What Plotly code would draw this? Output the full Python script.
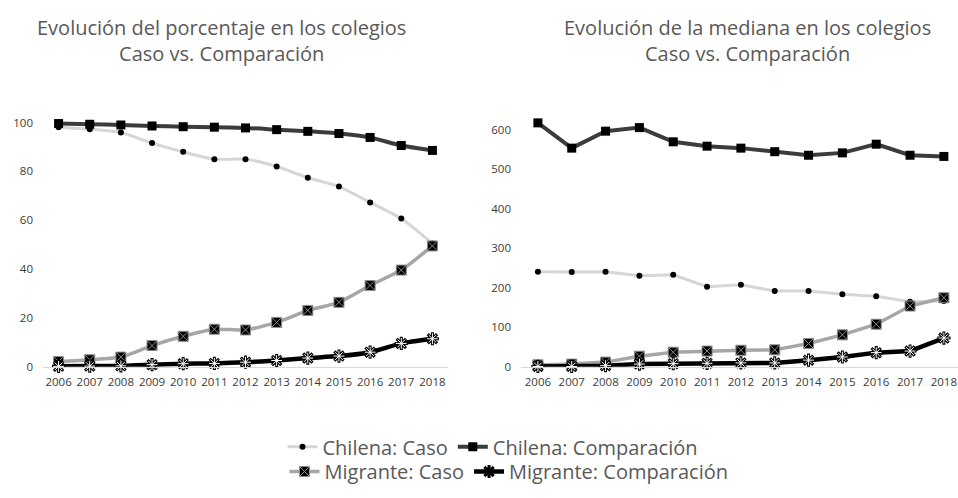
import plotly.graph_objects as go

years = [2006, 2007, 2008, 2009, 2010, 2011, 2012, 2013, 2014, 2015, 2016, 2017, 2018]

# Left: porcentaje
pct_chilena_caso = [98.1, 97.3, 95.9, 91.6, 88.0, 85.0, 85.0, 82.0, 77.4, 73.8, 67.3, 60.7, 50.5]
pct_chilena_comp = [99.6, 99.3, 99.0, 98.6, 98.3, 98.1, 97.8, 97.1, 96.4, 95.5, 93.9, 90.6, 88.6]
pct_migrante_caso = [2.2, 2.9, 4.0, 8.7, 12.5, 15.4, 15.1, 18.2, 23.1, 26.4, 33.3, 39.6, 49.5]
pct_migrante_comp = [0.2, 0.3, 0.4, 0.9, 1.3, 1.4, 1.9, 2.6, 3.6, 4.4, 6.0, 9.6, 11.5]

# Right: mediana
med_chilena_caso = [241, 240, 241, 231, 233, 203, 208, 192, 192, 184, 179, 165, 167]
med_chilena_comp = [618, 554, 597, 606, 570, 559, 554, 545, 536, 542, 564, 536, 533]
med_migrante_caso = [5, 7, 12, 27, 37, 40, 42, 43, 59, 81, 108, 154, 175]
med_migrante_comp = [1, 1, 3, 7, 8, 9, 10, 10, 17, 25, 36, 40, 73]

names = ["Chilena: Caso", "Chilena: Comparación", "Migrante: Caso", "Migrante: Comparación"]
titles = ["Evolución del porcentaje en los colegios<br>Caso vs. Comparación",
          "Evolución de la mediana en los colegios<br>Caso vs. Comparación"]

styles = [
    dict(line=dict(color="#d6d6d6", width=3), marker=dict(symbol="circle", size=6, color="black")),
    dict(line=dict(color="#3c3c3c", width=4), marker=dict(symbol="square", size=9, color="black")),
    dict(line=dict(color="#a6a6a6", width=3.5), marker=dict(symbol="square-x", size=10, color="black",
                                                           line=dict(color="#8c8c8c", width=1))),
    dict(line=dict(color="black", width=4.5), marker=dict(symbol="asterisk-open", size=11, color="black",
                                                         line=dict(color="black", width=3))),
]
legend_ids = ["legend", "legend", "legend2", "legend2"]

fig = go.Figure()

def add_series(data, xa, ya, shape, showlegend):
    for i, vals in enumerate(data):
        st = styles[i]
        fig.add_trace(go.Scatter(
            x=years, y=vals, mode="lines+markers", name=names[i],
            line=dict(color=st["line"]["color"], width=st["line"]["width"], shape=shape,
                      smoothing=0.6 if shape == "spline" else None),
            marker=st["marker"], xaxis=xa, yaxis=ya, cliponaxis=False,
            showlegend=showlegend, legend=legend_ids[i]))
        if i == 3:
            fig.add_trace(go.Scatter(
                x=years, y=vals, mode="markers", name=names[i],
                marker=dict(symbol="asterisk-open", size=9, color="white",
                            line=dict(color="white", width=1)),
                xaxis=xa, yaxis=ya, cliponaxis=False, showlegend=False, hoverinfo="skip"))

add_series([pct_chilena_caso, pct_chilena_comp, pct_migrante_caso, pct_migrante_comp],
           "x", "y", "spline", True)
add_series([med_chilena_caso, med_chilena_comp, med_migrante_caso, med_migrante_comp],
           "x2", "y2", "linear", False)

W, H = 958, 498
YS = 0.985  # observed vertical scale of the captured page

def fx(p):
    return p / W

def fy(p):
    return 1 - (p / YS) / H

ydom = [fy(366.5), fy(109.5)]
tickfont = dict(family="Open Sans, Lato, sans-serif", size=11.5, color="#3a3a3a")
txtfont = dict(family="Open Sans, Lato, sans-serif", size=20, color="#595959")
step2 = 33.83

xcommon = dict(tickmode="array", tickvals=years, ticktext=[str(y) for y in years],
               showgrid=False, zeroline=False, showline=True, linecolor="#d9d9d9", linewidth=1,
               ticks="", tickfont=tickfont, ticklabelstandoff=4, ticklabeloverflow="allow",
               fixedrange=True)
ycommon = dict(showgrid=False, zeroline=False, showline=False, ticks="", tickfont=tickfont,
               ticklabelstandoff=9, fixedrange=True)

fig.update_layout(
    width=W, height=H,
    margin=dict(l=0, r=0, t=0, b=0),
    paper_bgcolor="white", plot_bgcolor="white",
    xaxis=dict(domain=[fx(43), fx(448)], range=[2005.5, 2018.5], anchor="y", **xcommon),
    yaxis=dict(domain=ydom, range=[0, 105.3], tickvals=[0, 20, 40, 60, 80, 100], anchor="x", **ycommon),
    xaxis2=dict(domain=[fx(521), 1.0], range=[2005.5, 2005.5 + (958 - 521) / step2], anchor="y2", **xcommon),
    yaxis2=dict(domain=ydom, range=[0, 651.6], tickvals=[0, 100, 200, 300, 400, 500, 600], anchor="x2", **ycommon),
    legend=dict(orientation="h", x=fx(493), xanchor="center", y=25 / H, yanchor="bottom",
                font=txtfont, itemwidth=30, tracegroupgap=0, borderwidth=0, bgcolor="rgba(0,0,0,0)"),
    legend2=dict(orientation="h", x=fx(509), xanchor="center", y=0, yanchor="bottom",
                 font=txtfont, itemwidth=30, tracegroupgap=0, borderwidth=0, bgcolor="rgba(0,0,0,0)"),
    annotations=[
        dict(text=titles[0], x=fx(221), y=1 - 12 / H, xref="paper", yref="paper",
             xanchor="center", yanchor="top", showarrow=False, align="center", font=txtfont),
        dict(text=titles[1], x=fx(747), y=1 - 12 / H, xref="paper", yref="paper",
             xanchor="center", yanchor="top", showarrow=False, align="center", font=txtfont),
    ],
)

# remove the browser's default 8px page margin so the figure fills the 958x498 window
fig.write_html(
    "out.html",
    config={"displayModeBar": False},
    post_script="document.documentElement.style.margin='0';document.body.style.margin='0';"
                "document.documentElement.style.overflow='hidden';document.body.style.overflow='hidden';",
)
